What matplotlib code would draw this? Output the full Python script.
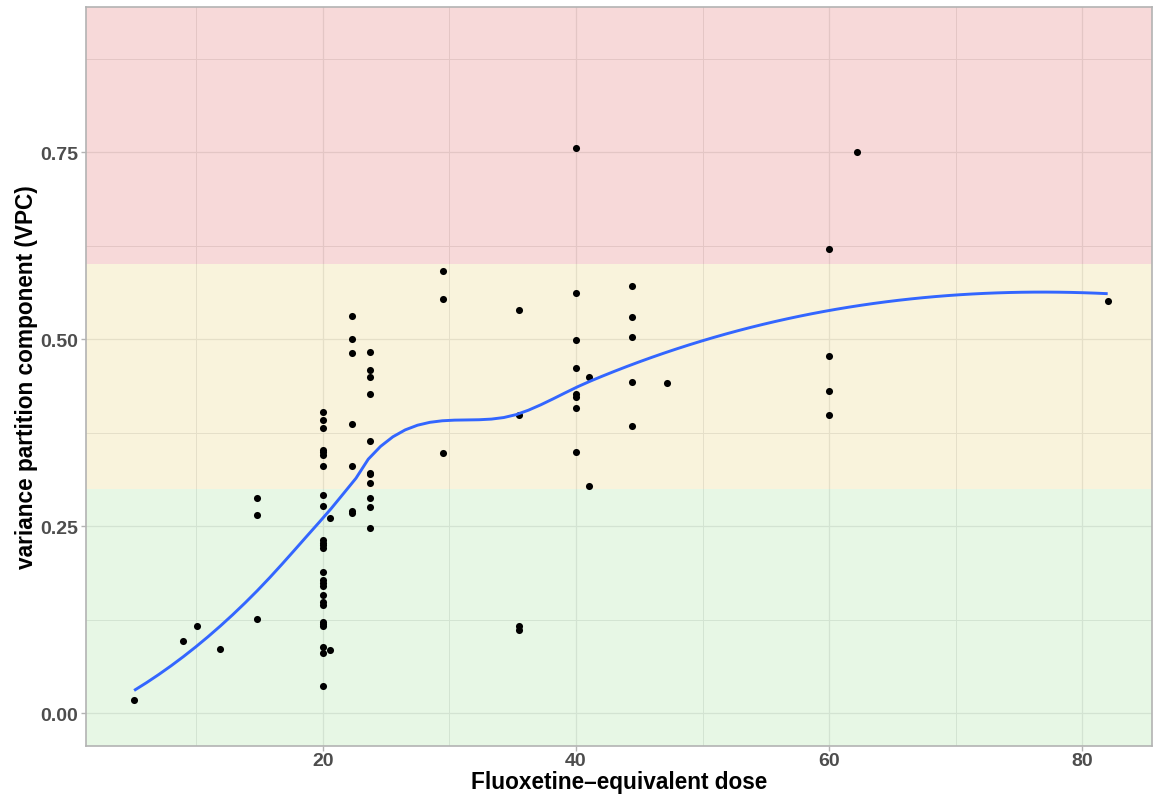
import numpy as np
import matplotlib
matplotlib.use("Agg")
import matplotlib.pyplot as plt
from matplotlib.ticker import FixedLocator

# ---- data ----
dose = ([5.1, 9.0, 10.1, 11.9]
        + [14.8] * 3
        + [20.0] * 26
        + [20.6] * 2
        + [22.3] * 7
        + [23.7] * 11
        + [29.5] * 3
        + [35.5] * 4
        + [40.0] * 8
        + [41.0] * 2
        + [44.4] * 5
        + [47.2]
        + [60.0] * 4
        + [62.2]
        + [82.0])
vpc = ([0.018, 0.096, 0.116, 0.086]
       + [0.287, 0.265, 0.126]
       + [0.402, 0.392, 0.381, 0.352, 0.349, 0.345, 0.330, 0.291, 0.277, 0.232,
          0.228, 0.225, 0.221, 0.189, 0.178, 0.174, 0.170, 0.158, 0.148, 0.145,
          0.122, 0.119, 0.116, 0.088, 0.081, 0.036]
       + [0.261, 0.085]
       + [0.531, 0.500, 0.481, 0.387, 0.331, 0.270, 0.267]
       + [0.483, 0.459, 0.450, 0.427, 0.364, 0.321, 0.319, 0.308, 0.288, 0.275, 0.247]
       + [0.591, 0.554, 0.348]
       + [0.539, 0.399, 0.116, 0.111]
       + [0.755, 0.561, 0.499, 0.462, 0.427, 0.423, 0.408, 0.349]
       + [0.450, 0.304]
       + [0.571, 0.529, 0.503, 0.442, 0.384]
       + [0.441]
       + [0.621, 0.477, 0.430, 0.399]
       + [0.750]
       + [0.551])

band_limits = [0.0, 0.3, 0.6]          # lower edges of bands
band_colors = ["#c3edc0", "#f0e1a8", "#eda2a0"]

x_ticks = [20, 40, 60, 80]
y_ticks = [0.00, 0.25, 0.50, 0.75]

x_title = "Fluoxetine\u2013equivalent dose"
y_title = "variance partition component (VPC)"


# ---- loess (span 0.75, degree 2) with kd-tree vertex interpolation, as in R ----
def local_fit(x, y, x0, q):
    d = np.abs(x - x0)
    h = np.sort(d)[q - 1]
    w = np.clip(1 - (d / h) ** 3, 0, None) ** 3
    X = np.vstack([np.ones(len(x)), x - x0, (x - x0) ** 2]).T
    W = np.sqrt(w)
    beta, *_ = np.linalg.lstsq(X * W[:, None], y * W, rcond=None)
    return beta[0], beta[1]


def kd_vertices(xs_sorted, fc, lo_v, hi_v):
    verts = {lo_v, hi_v}
    stack = [(0, len(xs_sorted) - 1, lo_v, hi_v)]
    while stack:
        l, u, vl, vu = stack.pop()
        if (u - l) + 1 <= fc:
            continue
        m = (l + u) // 2
        off = 0
        while l <= m + off < u:
            if xs_sorted[m + off] == xs_sorted[m + off + 1]:
                off = -off
                if off >= 0:
                    off += 1
            else:
                m = m + off
                break
        t = xs_sorted[m]
        if t == vl or t == vu:
            continue
        verts.add(t)
        stack.append((l, m, vl, t))
        stack.append((m + 1, u, t, vu))
    return np.array(sorted(verts))


def loess(x, y, xs, span=0.75, cell=0.2):
    x = np.asarray(x, float)
    y = np.asarray(y, float)
    n = len(x)
    q = int(np.floor(n * span))
    fc = int(np.floor(n * span * cell))
    xsrt = np.sort(x)
    mu = 0.005 * (xsrt[-1] - xsrt[0])
    verts = kd_vertices(xsrt, fc, xsrt[0] - mu, xsrt[-1] + mu)
    vals = np.array([local_fit(x, y, v, q) for v in verts])
    out = []
    for x0 in xs:
        i = np.clip(np.searchsorted(verts, x0) - 1, 0, len(verts) - 2)
        x1, x2 = verts[i], verts[i + 1]
        hh = x2 - x1
        t = (x0 - x1) / hh
        f1, d1 = vals[i]
        f2, d2 = vals[i + 1]
        h00 = 2 * t**3 - 3 * t**2 + 1
        h10 = t**3 - 2 * t**2 + t
        h01 = -2 * t**3 + 3 * t**2
        h11 = t**3 - t**2
        out.append(h00 * f1 + h10 * hh * d1 + h01 * f2 + h11 * hh * d2)
    return np.array(out)


W_PX, H_PX = 1153, 803
fig = plt.figure(figsize=(W_PX / 100, H_PX / 100), dpi=100)
ax = fig.add_axes([86 / W_PX, 1 - 747 / H_PX, (1152 - 86) / W_PX, (747 - 8) / H_PX])

xmin, xmax = 1.3, 85.5
ymin, ymax = -0.044, 0.944
ax.set_xlim(xmin, xmax)
ax.set_ylim(ymin, ymax)

# grid
ax.set_axisbelow(True)
ax.xaxis.set_major_locator(FixedLocator(x_ticks))
ax.yaxis.set_major_locator(FixedLocator(y_ticks))
ax.xaxis.set_minor_locator(FixedLocator([10, 30, 50, 70]))
ax.yaxis.set_minor_locator(FixedLocator([0.125, 0.375, 0.625, 0.875]))
ax.grid(which="major", color="#dedede", linewidth=0.9, zorder=0)
ax.grid(which="minor", color="#dedede", linewidth=0.7, zorder=0)

# bands (semi-transparent, drawn over gridlines)
edges = band_limits + [ymax]
for i, c in enumerate(band_colors):
    lo = ymin if i == 0 else edges[i]
    ax.axhspan(lo, edges[i + 1], color=c, alpha=0.4, lw=0, zorder=1)

# points
ax.scatter(dose, vpc, s=26, color="black", zorder=3, linewidths=0)

# loess smooth
xs = np.linspace(min(dose), max(dose), 80)
ax.plot(xs, loess(dose, vpc, xs), color="#3366FF", lw=2.1, zorder=4,
        solid_capstyle="butt")

# axes styling
for s in ax.spines.values():
    s.set_color("#b3b3b3")
    s.set_linewidth(1.2)
ax.tick_params(which="major", color="#b3b3b3", length=3.5, width=1,
               labelsize=14, labelcolor="#4d4d4d")
ax.tick_params(axis="y", pad=2.2)
ax.tick_params(axis="x", pad=0.8)
ax.tick_params(which="minor", length=0)
ax.set_yticklabels([f"{v:.2f}" for v in y_ticks])
for lab in ax.get_xticklabels() + ax.get_yticklabels():
    lab.set_fontfamily("Liberation Sans")
    lab.set_fontweight("bold")

# axis titles placed at the reference positions
fig.text(619 / W_PX, 1 - 789 / H_PX, x_title, fontsize=16.3, fontweight="bold",
         fontfamily="Liberation Sans", ha="center", va="baseline")
fig.text(33 / W_PX, 1 - 377.5 / H_PX, y_title, fontsize=16.3, fontweight="bold",
         fontfamily="Liberation Sans", ha="center", va="baseline",
         rotation=90, rotation_mode="anchor")

fig.savefig("out.png", dpi=100)
